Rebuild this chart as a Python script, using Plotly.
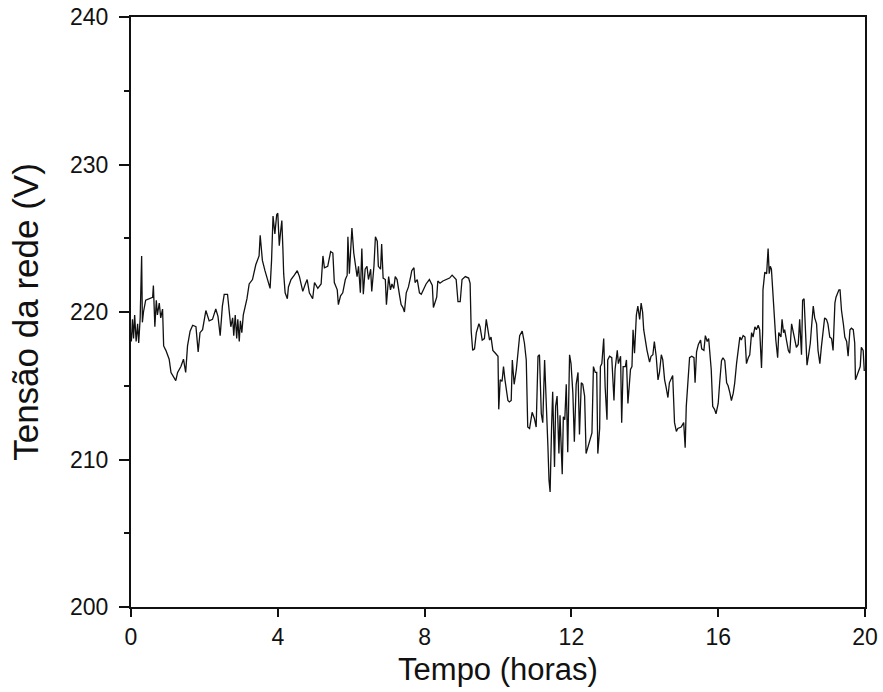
import plotly.graph_objects as go

# Mains voltage log over a 20-hour window
horas = [
    0.00, 0.01, 0.04, 0.07, 0.10, 0.14, 0.18, 0.21, 0.25, 0.29, 0.31, 0.34, 0.40, 0.50, 0.59, 0.61,
    0.65, 0.69, 0.72, 0.77, 0.81, 0.86, 0.89, 0.95, 1.04, 1.09, 1.18, 1.22, 1.27, 1.36, 1.43, 1.49,
    1.54, 1.61, 1.68, 1.77, 1.83, 1.88, 1.95, 2.04, 2.13, 2.22, 2.31, 2.37, 2.43, 2.49, 2.54, 2.63,
    2.67, 2.72, 2.77, 2.80, 2.84, 2.88, 2.91, 2.95, 2.98, 3.02, 3.06, 3.08, 3.16, 3.22, 3.31, 3.40,
    3.49, 3.52, 3.58, 3.65, 3.72, 3.79, 3.83, 3.87, 3.92, 3.97, 4.00, 4.04, 4.07, 4.11, 4.14, 4.16,
    4.20, 4.26, 4.29, 4.36, 4.45, 4.53, 4.59, 4.68, 4.75, 4.80, 4.86, 4.95, 5.00, 5.09, 5.18, 5.23,
    5.27, 5.36, 5.44, 5.50, 5.54, 5.62, 5.65, 5.71, 5.77, 5.84, 5.89, 5.91, 5.95, 6.02, 6.07, 6.11,
    6.16, 6.20, 6.25, 6.29, 6.33, 6.38, 6.43, 6.47, 6.53, 6.56, 6.62, 6.66, 6.71, 6.74, 6.80, 6.83,
    6.87, 6.93, 6.96, 7.02, 7.07, 7.11, 7.16, 7.20, 7.25, 7.32, 7.36, 7.41, 7.45, 7.50, 7.56, 7.62,
    7.65, 7.71, 7.74, 7.80, 7.86, 7.91, 7.98, 8.04, 8.13, 8.21, 8.24, 8.30, 8.33, 8.36, 8.42, 8.50,
    8.59, 8.68, 8.75, 8.81, 8.86, 8.91, 8.97, 9.02, 9.11, 9.20, 9.24, 9.27, 9.31, 9.36, 9.41, 9.48,
    9.51, 9.57, 9.63, 9.68, 9.72, 9.77, 9.81, 9.86, 9.93, 10.00, 10.02, 10.06, 10.11, 10.15, 10.19, 10.22,
    10.27, 10.31, 10.36, 10.39, 10.44, 10.50, 10.54, 10.59, 10.66, 10.72, 10.77, 10.81, 10.86, 10.93, 10.99, 11.04,
    11.09, 11.13, 11.18, 11.22, 11.27, 11.31, 11.36, 11.39, 11.42, 11.46, 11.49, 11.54, 11.57, 11.61, 11.66, 11.69,
    11.75, 11.78, 11.82, 11.86, 11.90, 11.95, 11.99, 12.04, 12.08, 12.13, 12.18, 12.22, 12.27, 12.31, 12.36, 12.40,
    12.45, 12.49, 12.56, 12.60, 12.65, 12.69, 12.72, 12.77, 12.79, 12.83, 12.88, 12.92, 12.97, 12.99, 13.04, 13.10,
    13.16, 13.19, 13.25, 13.28, 13.34, 13.37, 13.41, 13.47, 13.50, 13.54, 13.57, 13.61, 13.65, 13.68, 13.72, 13.77,
    13.81, 13.86, 13.90, 13.94, 13.97, 14.01, 14.06, 14.13, 14.17, 14.22, 14.26, 14.31, 14.36, 14.40, 14.45, 14.49,
    14.54, 14.58, 14.63, 14.67, 14.72, 14.76, 14.81, 14.86, 14.90, 14.99, 15.06, 15.10, 15.13, 15.17, 15.22, 15.28,
    15.34, 15.37, 15.41, 15.46, 15.52, 15.55, 15.61, 15.65, 15.70, 15.74, 15.77, 15.81, 15.85, 15.90, 15.94, 16.00,
    16.04, 16.09, 16.13, 16.18, 16.23, 16.27, 16.32, 16.36, 16.41, 16.45, 16.50, 16.54, 16.59, 16.63, 16.68, 16.73,
    16.77, 16.82, 16.86, 16.91, 16.95, 17.00, 17.04, 17.09, 17.13, 17.18, 17.21, 17.22, 17.27, 17.32, 17.34, 17.36,
    17.39, 17.42, 17.45, 17.48, 17.52, 17.57, 17.62, 17.65, 17.71, 17.74, 17.78, 17.81, 17.86, 17.91, 17.95, 18.00,
    18.04, 18.09, 18.13, 18.18, 18.22, 18.27, 18.30, 18.34, 18.38, 18.42, 18.47, 18.51, 18.54, 18.59, 18.63, 18.68,
    18.72, 18.77, 18.81, 18.86, 18.90, 18.95, 18.99, 19.04, 19.09, 19.13, 19.18, 19.21, 19.25, 19.29, 19.32, 19.36,
    19.41, 19.45, 19.50, 19.54, 19.59, 19.63, 19.68, 19.72, 19.74, 19.80, 19.83, 19.87, 19.90, 19.95, 19.98,
]

tensao = [
    218.6, 218.0, 219.5, 218.2, 219.8, 218.0, 219.2, 217.9, 219.6, 223.8, 219.3, 220.0, 220.8, 220.9, 221.0, 221.8,
    219.0, 220.8, 219.8, 220.6, 219.6, 220.2, 217.7, 217.4, 216.8, 215.9, 215.5, 215.35, 215.9, 216.3, 216.8, 215.9,
    217.7, 218.7, 219.1, 219.0, 217.3, 218.6, 218.8, 220.1, 219.4, 219.5, 220.2, 219.7, 218.4, 220.4, 221.2, 221.2,
    220.2, 219.0, 219.6, 218.4, 219.8, 218.2, 219.5, 218.0, 219.4, 218.6, 219.8, 220.0, 220.9, 221.9, 222.2, 223.2,
    223.8, 225.2, 223.5, 222.8, 222.2, 221.6, 223.5, 226.5, 225.3, 226.6, 226.7, 224.5, 225.3, 226.2, 224.2, 222.6,
    221.3, 220.9, 221.7, 222.2, 222.5, 222.8, 222.4, 221.4, 221.9, 222.2, 221.3, 220.9, 222.0, 221.6, 221.9, 223.8,
    223.0, 223.1, 224.1, 224.0, 222.0, 221.5, 220.5, 221.1, 221.3, 222.2, 222.5, 225.1, 222.6, 225.7, 224.0, 223.3,
    222.4, 223.1, 221.3, 224.3, 221.2, 222.9, 223.1, 222.2, 222.9, 221.4, 223.1, 225.1, 224.8, 223.1, 222.9, 224.6,
    222.3, 222.2, 220.5, 222.4, 221.5, 221.9, 221.6, 222.4, 222.2, 221.1, 220.5, 220.3, 220.0, 221.3, 221.7, 222.4,
    222.8, 223.0, 222.0, 222.2, 221.3, 221.2, 221.6, 221.9, 222.2, 221.8, 220.3, 220.8, 221.0, 222.1, 221.95, 222.1,
    222.2, 222.3, 222.5, 222.3, 222.2, 220.7, 220.7, 222.2, 222.4, 222.3, 221.95, 218.7, 217.4, 217.5, 218.6, 219.2,
    219.0, 218.1, 218.2, 219.5, 218.8, 218.1, 218.3, 217.4, 217.2, 217.0, 213.4, 215.4, 215.3, 216.3, 215.4, 214.7,
    214.0, 213.9, 214.0, 216.75, 215.1, 216.1, 217.4, 218.4, 218.7, 217.9, 216.75, 212.2, 212.1, 213.2, 212.8, 212.2,
    217.0, 217.1, 213.1, 212.5, 216.75, 214.6, 210.9, 208.6, 207.8, 212.2, 214.6, 209.5, 213.6, 214.3, 210.4, 213.0,
    209.0, 212.9, 212.7, 215.1, 210.5, 217.1, 216.5, 214.5, 211.2, 215.1, 215.9, 211.7, 215.2, 215.1, 214.3, 210.4,
    210.8, 211.2, 211.8, 216.3, 215.9, 215.9, 210.4, 212.1, 216.3, 216.5, 218.2, 214.9, 212.7, 216.75, 217.0, 216.9,
    214.0, 216.1, 217.4, 216.5, 217.0, 212.5, 216.3, 216.3, 216.75, 213.8, 214.7, 216.1, 216.3, 218.8, 217.2, 219.8,
    220.4, 219.5, 220.6, 220.0, 218.8, 218.1, 217.4, 216.6, 217.0, 217.1, 218.0, 217.0, 215.4, 215.9, 217.1, 216.75,
    215.4, 214.9, 214.2, 215.2, 215.5, 215.7, 212.5, 211.9, 212.1, 212.2, 212.5, 210.8, 213.6, 215.4, 216.9, 217.0,
    216.9, 215.2, 217.3, 217.8, 218.1, 217.5, 217.4, 218.4, 218.0, 218.2, 217.4, 216.1, 213.6, 213.4, 213.1, 213.8,
    215.2, 216.7, 216.9, 216.7, 215.2, 215.0, 214.5, 214.0, 214.5, 215.2, 216.5, 217.2, 218.3, 218.1, 218.4, 218.3,
    216.5, 216.9, 217.1, 218.6, 218.3, 219.0, 218.8, 219.1, 218.8, 216.2, 218.6, 221.5, 222.7, 222.6, 223.3, 224.3,
    222.6, 223.1, 222.9, 221.5, 220.0, 218.1, 216.9, 218.6, 218.3, 219.5, 218.6, 218.8, 218.1, 217.4, 217.2, 219.2,
    218.7, 218.1, 217.6, 217.8, 219.5, 217.1, 220.8, 220.9, 218.3, 216.4, 217.2, 217.9, 218.9, 220.4, 219.6, 219.2,
    217.4, 216.5, 217.6, 218.9, 219.6, 219.5, 219.2, 218.3, 218.2, 217.4, 220.6, 221.0, 221.3, 221.5, 221.5, 220.1,
    219.2, 218.3, 218.0, 217.0, 218.8, 218.9, 218.8, 217.9, 215.4, 215.8, 216.0, 216.3, 217.6, 217.4, 216.0,
]

x_ticks = [0, 4, 8, 12, 16, 20]
y_ticks = [200, 210, 220, 230, 240]

FONT = "Liberation Sans, Arial, sans-serif"
INK = "#111111"

fig = go.Figure()
fig.add_trace(go.Scatter(
    x=horas, y=tensao, mode="lines",
    line=dict(color=INK, width=1.3),
    showlegend=False, hoverinfo="skip",
))

axis_common = dict(
    showgrid=False, zeroline=False,
    showline=True, linecolor=INK, linewidth=2, mirror=True,
    ticks="outside", tickcolor=INK, tickwidth=2,
    tickfont=dict(family=FONT, size=23, color=INK),
)

fig.update_xaxes(
    range=[0, 20], tickvals=x_ticks, ticktext=[str(v) for v in x_ticks], ticklen=8,
    title=dict(text="Tempo (horas)", font=dict(family=FONT, size=31, color=INK), standoff=10),
    **axis_common,
)
fig.update_yaxes(
    range=[200, 240], tickvals=y_ticks, ticktext=[str(v) for v in y_ticks], ticklen=10,
    ticklabelstandoff=6,
    minor=dict(dtick=5, tick0=200, ticks="outside", ticklen=5, tickwidth=2, tickcolor=INK),
    title=dict(text="Tensão da rede (V)", font=dict(family=FONT, size=35, color=INK), standoff=21),
    **axis_common,
)

fig.update_layout(
    width=883, height=692,
    margin=dict(l=131, r=18, t=17, b=85, autoexpand=False),
    plot_bgcolor="white", paper_bgcolor="white",
)

fig.write_html("out.html")
